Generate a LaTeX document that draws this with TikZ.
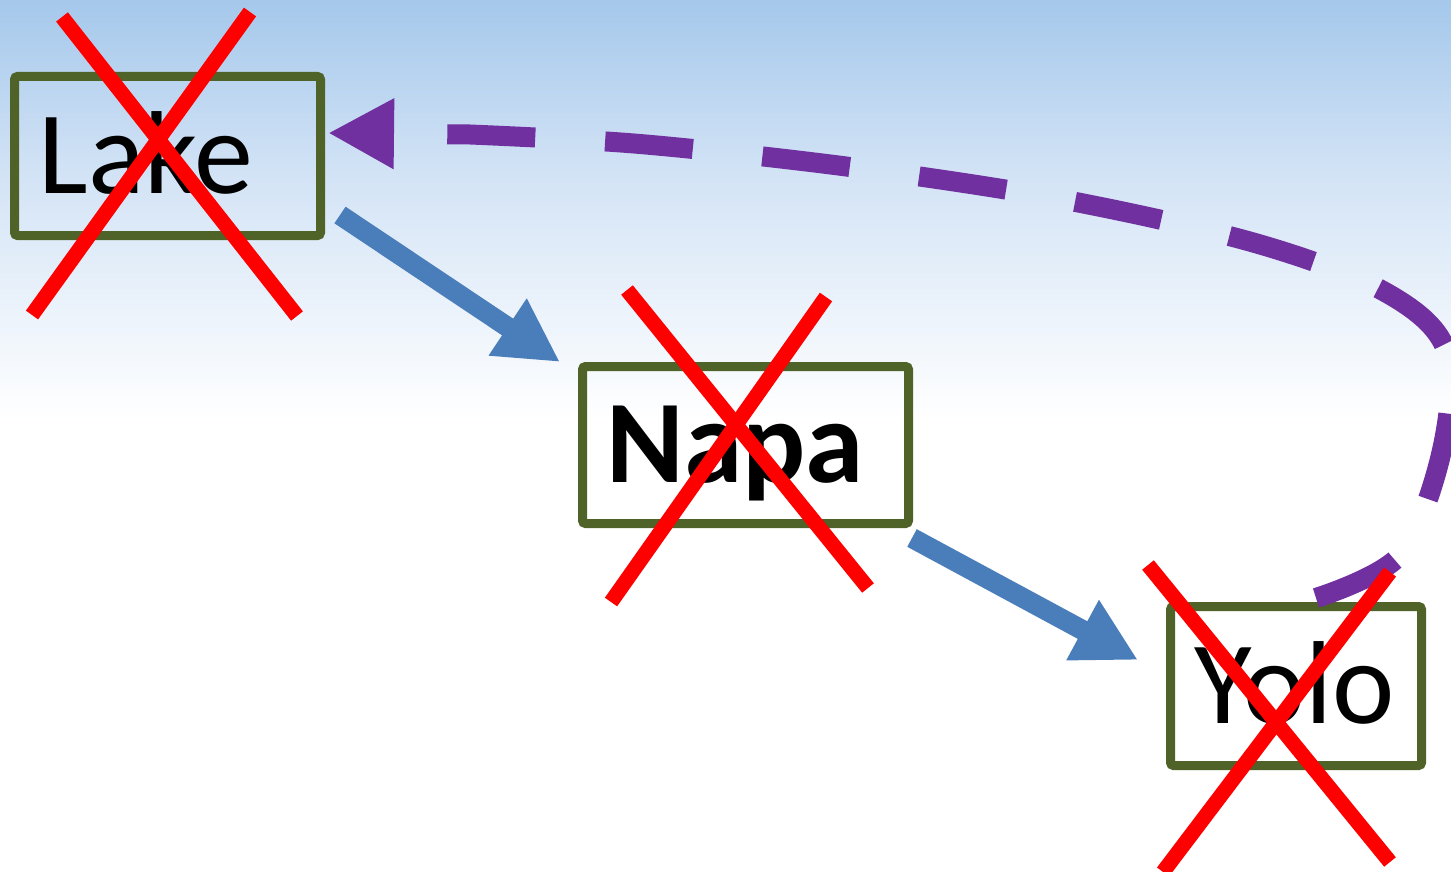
\documentclass[tikz,border=0pt]{standalone}
\usepackage{fontspec}
\setmainfont{Carlito}
\usetikzlibrary{arrows.meta,calc}
\definecolor{boxgreen}{HTML}{4F6228}
\definecolor{flowblue}{HTML}{4A7EBB}
\definecolor{loopviolet}{HTML}{7030A0}
\definecolor{skytop}{RGB}{165,200,235}
\definecolor{skymid}{RGB}{212,228,246}
\tikzset{
  county/.style={draw=boxgreen, line width=4.5pt, rounded corners=1.5pt, anchor=north west,
    inner xsep=12pt, inner ysep=0pt, text height=37.5pt, text depth=0pt,
    font=\fontsize{59}{60}\selectfont, align=left},
  flow/.style={draw=flowblue, line width=10pt, -{Triangle[length=31.5pt, width=32pt]}},
  loop/.style={draw=loopviolet, line width=10pt, dash pattern=on 44pt off 35pt,
    -{Triangle[length=33pt, width=33pt]}},
  cross/.style={draw=red, line width=7.5pt}
}
\begin{document}
\begin{tikzpicture}[x=0.5pt, y=-0.5pt]
		%%%%% START %%%%%
		\useasboundingbox (0, 0) rectangle (1451, 872);
		\fill[white] (0, 0) rectangle (1451, 872);
		\shade[top color=skytop, bottom color=skymid] (0, 0) rectangle (1451, 180);
		\shade[top color=skymid, bottom color=white] (0, 180) rectangle (1451, 420);
		
		\node[county, text width=129pt, minimum height=79.5pt] (lake) at (10, 72) {Lake};
		\node[county, text width=139pt, minimum height=78.5pt, font=\fontsize{59}{60}\selectfont\bfseries] (napa) at (578, 362) {Napa};
		\node[county, text width=101.5pt, minimum height=79.5pt] (yolo) at (1166, 602) {Yolo};
		
		\draw[flow] ([xshift=7.5pt, yshift=12.5pt]lake.south east) -- ([xshift=-9pt]napa.north west);
		\draw[flow] ([xshift=-0.5pt, yshift=-5pt]napa.south east) -- ([xshift=-14pt, yshift=-29pt]yolo.north west);
		
		\draw[loop] plot[smooth, tension=0.55] coordinates {([xshift=10pt, yshift=2pt]yolo.north) (1400, 555) (1442, 450) (1446, 350) (1385, 292) (1255, 243) (1060, 199) (850, 167) (640, 144) (470, 134.5)} -- ([xshift=1.5pt, yshift=11.5pt]lake.east);
		
		\draw[cross] (62, 17) -- (297, 316);
		\draw[cross] (250, 12) -- (32, 315);
		\draw[cross] (627, 290) -- (868, 588);
		\draw[cross] (826, 297) -- (611, 602);
		\draw[cross] (1148, 565) -- (1390, 862);
		\draw[cross] (1390, 572) -- (1163, 872);
		%%%%% END %%%%%
	\end{tikzpicture}
\end{document}
